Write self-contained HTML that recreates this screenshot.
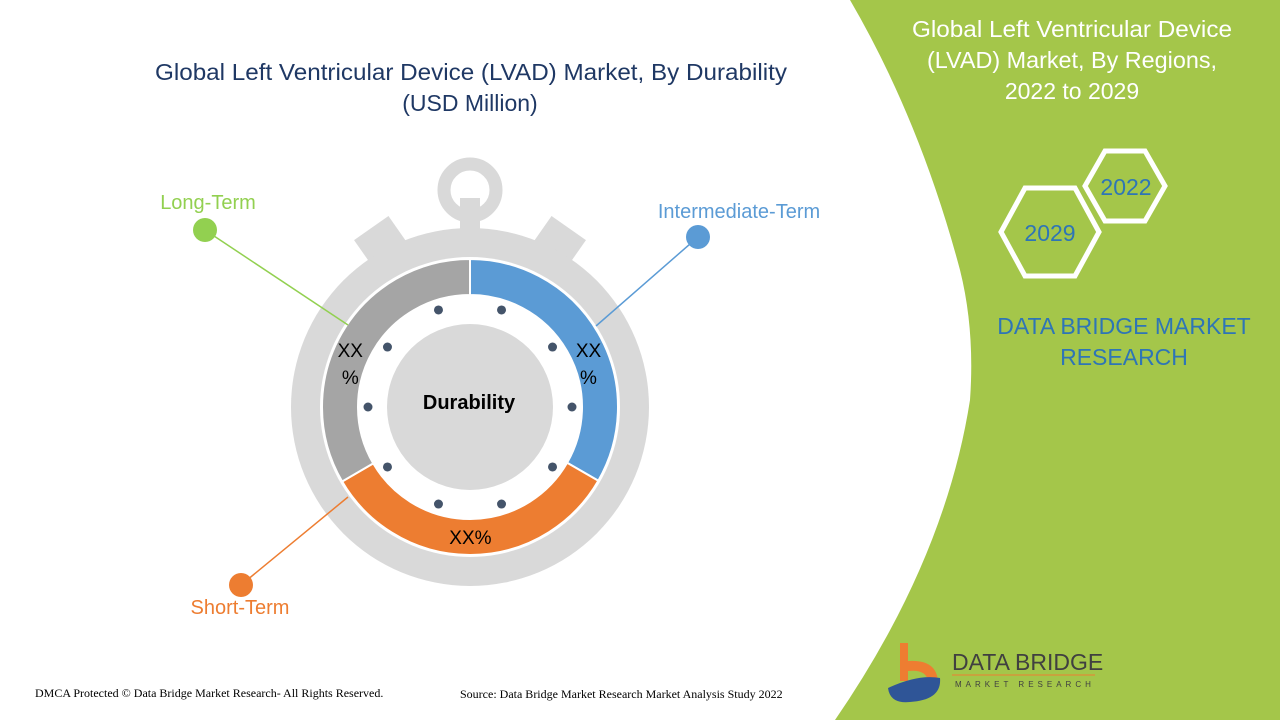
<!DOCTYPE html>
<html><head><meta charset="utf-8"><style>
body{margin:0;width:1280px;height:720px;overflow:hidden;background:#fff;font-family:"Liberation Sans",sans-serif}
svg{display:block}
</style></head><body>
<svg width="1280" height="720" viewBox="0 0 1280 720">
<path d="M850,0 L1280,0 L1280,720 L835,720 Q945,560 970,400 Q975,330 960,270 Q920,120 850,0 Z" fill="#a4c64a"/>
<text x="155" y="80" textLength="632" lengthAdjust="spacingAndGlyphs" font-size="23" fill="#1f3864">Global Left Ventricular Device (LVAD) Market, By Durability</text>
<text x="470" y="111" text-anchor="middle" font-size="23" fill="#1f3864">(USD Million)</text>
<g fill="#fff" font-size="23" text-anchor="middle">
<text x="1072" y="37" textLength="320" lengthAdjust="spacingAndGlyphs">Global Left Ventricular Device</text>
<text x="1072" y="68" textLength="290" lengthAdjust="spacingAndGlyphs">(LVAD) Market, By Regions,</text>
<text x="1072" y="99">2022 to 2029</text></g>
<polygon points="1085,186 1105,151 1145,151 1165,186 1145,221 1105,221" fill="none" stroke="#fff" stroke-width="5"/>
<text x="1126" y="195" text-anchor="middle" font-size="23" fill="#2e75b6">2022</text>
<polygon points="1001,232 1025,188 1075,188 1099,232 1075,276 1025,276" fill="none" stroke="#fff" stroke-width="5"/>
<text x="1050" y="241" text-anchor="middle" font-size="23" fill="#2e75b6">2029</text>
<text x="1124" y="334" text-anchor="middle" font-size="23" fill="#2e75b6">DATA BRIDGE MARKET</text>
<text x="1124" y="365" text-anchor="middle" font-size="23" fill="#2e75b6">RESEARCH</text>
<g>
<path d="M900,643 h8 v18 q28,-2 30,20 h-10 q-2,-12 -20,-10 v10 h-8z" fill="#ee7d31"/>
<path d="M888,688 q30,-14 52,-10 q2,22 -30,24 q-20,2 -22,-14z" fill="#2f5597"/>
<text x="952" y="670" font-size="23" fill="#404040">DATA BRIDGE</text>
<line x1="952" y1="675" x2="1095" y2="675" stroke="#ee7d31" stroke-width="1"/>
<text x="955" y="687" font-size="8" fill="#404040" letter-spacing="4">MARKET RESEARCH</text></g>
<g fill="#d9d9d9">
<circle cx="470" cy="190" r="26" fill="none" stroke="#d9d9d9" stroke-width="13"/>
<rect x="460" y="198" width="20" height="40"/>
<rect x="360" y="225" width="42" height="34" transform="rotate(-35 381 242)"/>
<rect x="538" y="225" width="42" height="34" transform="rotate(35 559 242)"/>
<circle cx="470" cy="407" r="179"/>
<circle cx="470" cy="407" r="150" fill="#fff"/>
</g>
<g id="donut"></g>
<circle cx="470" cy="407" r="112" fill="#fff"/>
<g id="dots"></g>
<circle cx="470" cy="407" r="83" fill="#d9d9d9"/>
<text x="469" y="409" text-anchor="middle" font-size="20" font-weight="bold" fill="#000">Durability</text>
<g id="labels" font-size="19" fill="#000"></g>
<g><line x1="205" y1="230" x2="348" y2="325" stroke="#92d050" stroke-width="1.5"/><circle cx="205" cy="230" r="12" fill="#92d050"/></g>
<text x="208" y="209" text-anchor="middle" font-size="20" fill="#92d050">Long-Term</text>
<g><line x1="698" y1="237" x2="596" y2="326" stroke="#5b9bd5" stroke-width="1.5"/><circle cx="698" cy="237" r="12" fill="#5b9bd5"/></g>
<text x="739" y="218" text-anchor="middle" font-size="20" fill="#5b9bd5">Intermediate-Term</text>
<g><line x1="241" y1="585" x2="348" y2="497" stroke="#ed7d31" stroke-width="1.5"/><circle cx="241" cy="585" r="12" fill="#ed7d31"/></g>
<text x="240" y="614" text-anchor="middle" font-size="20" fill="#ed7d31">Short-Term</text>
<text x="35" y="697" font-family="Liberation Serif,serif" font-size="12" fill="#000">DMCA Protected © Data Bridge Market Research- All Rights Reserved.</text>
<text x="460" y="698" font-family="Liberation Serif,serif" font-size="12" fill="#000">Source: Data Bridge Market Research Market Analysis Study 2022</text>
</svg>
<script>
const categories=["Intermediate-Term","Short-Term","Long-Term"];
const values=[33.3,33.3,33.4];
const colors=["#5b9bd5","#ed7d31","#a5a5a5"];
const valueLabels=["XX%","XX%","XX%"];
const NS="http://www.w3.org/2000/svg",cx=470,cy=407,R=148,r=112;
function pt(a,rad){const t=(a-90)*Math.PI/180;return [cx+rad*Math.cos(t),cy+rad*Math.sin(t)];}
const total=values.reduce((a,b)=>a+b,0);let start=0;
const g=document.getElementById('donut'),lg=document.getElementById('labels');
values.forEach((v,i)=>{
 const sweep=v/total*360,end=start+sweep,large=sweep>180?1:0;
 const [x1,y1]=pt(start,R),[x2,y2]=pt(end,R),[x3,y3]=pt(end,r),[x4,y4]=pt(start,r);
 const p=document.createElementNS(NS,'path');
 p.setAttribute('d',`M${x1},${y1}A${R},${R} 0 ${large} 1 ${x2},${y2}L${x3},${y3}A${r},${r} 0 ${large} 0 ${x4},${y4}Z`);
 p.setAttribute('fill',colors[i]);p.setAttribute('stroke','#fff');p.setAttribute('stroke-width','2');
 
 
 g.appendChild(p);
 const mid=start+sweep/2,[lx,ly]=pt(mid,130);
 const t=document.createElementNS(NS,'text');
 t.setAttribute('text-anchor','middle');
 if(i===1){t.setAttribute('x',lx);t.setAttribute('y',ly+7);t.textContent=valueLabels[i];}
 else{const ox=lx>cx?6:-7;
  const a=document.createElementNS(NS,'tspan');a.setAttribute('x',lx+ox);a.setAttribute('y',ly+15);a.textContent=valueLabels[i].slice(0,2);
  const b=document.createElementNS(NS,'tspan');b.setAttribute('x',lx+ox);b.setAttribute('y',ly+42);b.textContent='%';t.appendChild(a);t.appendChild(b);}
 
 
 lg.appendChild(t);
 start=end;
});
const dg=document.getElementById('dots');
for(let k=0;k<10;k++){const [x,y]=pt(18+36*k,102);const c=document.createElementNS(NS,'circle');
 c.setAttribute('cx',x);c.setAttribute('cy',y);c.setAttribute('r',4.5);c.setAttribute('fill','#44546a');
 
 
 dg.appendChild(c);}
</script>
</body></html>
